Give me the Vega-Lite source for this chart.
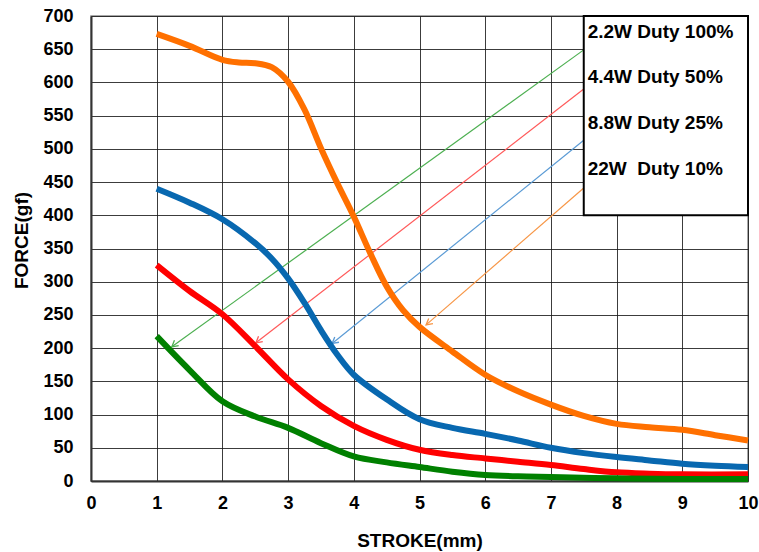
{
  "$schema": "https://vega.github.io/schema/vega-lite/v6.json",
  "width": 657,
  "height": 465,
  "autosize": {"type": "none"},
  "padding": {"left": 91, "top": 16, "right": 11, "bottom": 71},
  "background": "white",
  "config": {
    "view": {"stroke": "#8c8c8c", "strokeWidth": 1.5},
    "font": "Liberation Sans",
    "axis": {
      "grid": true, "gridColor": "#1a1a1a", "gridWidth": 1, "gridOpacity": 0.85,
      "ticks": false, "tickSize": 0,
      "domainColor": "#333333", "domainWidth": 2,
      "labelFont": "Liberation Sans", "labelFontWeight": "bold", "labelFontSize": 18, "labelColor": "black",
      "labelOverlap": false, "labelFlush": false,
      "titleFont": "Liberation Sans", "titleFontWeight": "bold", "titleFontSize": 19, "titleColor": "black"
    },
    "axisX": {"labelPadding": 13, "titleY": 65, "titleBaseline": "alphabetic"},
    "axisY": {"labelPadding": 18, "titleAngle": -90, "titleX": -64, "titleY": 224, "titleAlign": "center", "titleBaseline": "alphabetic"}
  },
  "datasets": {
    "curves": [
      {"series": "orange", "stroke": 1, "force": 673},
      {"series": "orange", "stroke": 1.5, "force": 655},
      {"series": "orange", "stroke": 2, "force": 634},
      {"series": "orange", "stroke": 2.25, "force": 630},
      {"series": "orange", "stroke": 2.5, "force": 629},
      {"series": "orange", "stroke": 2.75, "force": 623},
      {"series": "orange", "stroke": 3, "force": 601},
      {"series": "orange", "stroke": 3.25, "force": 559},
      {"series": "orange", "stroke": 3.5, "force": 501},
      {"series": "orange", "stroke": 3.75, "force": 448},
      {"series": "orange", "stroke": 4, "force": 398},
      {"series": "orange", "stroke": 4.25, "force": 343},
      {"series": "orange", "stroke": 4.5, "force": 293},
      {"series": "orange", "stroke": 4.75, "force": 257},
      {"series": "orange", "stroke": 5, "force": 232},
      {"series": "orange", "stroke": 5.5, "force": 195},
      {"series": "orange", "stroke": 6, "force": 160},
      {"series": "orange", "stroke": 6.5, "force": 135},
      {"series": "orange", "stroke": 7, "force": 115},
      {"series": "orange", "stroke": 7.5, "force": 98},
      {"series": "orange", "stroke": 8, "force": 86},
      {"series": "orange", "stroke": 8.5, "force": 81},
      {"series": "orange", "stroke": 9, "force": 77},
      {"series": "orange", "stroke": 9.5, "force": 69},
      {"series": "orange", "stroke": 10, "force": 61},
      {"series": "blue", "stroke": 1, "force": 440},
      {"series": "blue", "stroke": 1.5, "force": 419},
      {"series": "blue", "stroke": 2, "force": 394},
      {"series": "blue", "stroke": 2.5, "force": 358},
      {"series": "blue", "stroke": 2.75, "force": 335},
      {"series": "blue", "stroke": 3, "force": 305},
      {"series": "blue", "stroke": 3.25, "force": 268},
      {"series": "blue", "stroke": 3.5, "force": 227},
      {"series": "blue", "stroke": 3.75, "force": 190},
      {"series": "blue", "stroke": 4, "force": 160},
      {"series": "blue", "stroke": 4.5, "force": 123},
      {"series": "blue", "stroke": 5, "force": 93},
      {"series": "blue", "stroke": 5.5, "force": 80},
      {"series": "blue", "stroke": 6, "force": 71},
      {"series": "blue", "stroke": 6.5, "force": 61},
      {"series": "blue", "stroke": 7, "force": 50},
      {"series": "blue", "stroke": 7.5, "force": 42},
      {"series": "blue", "stroke": 8, "force": 36},
      {"series": "blue", "stroke": 8.5, "force": 31},
      {"series": "blue", "stroke": 9, "force": 26},
      {"series": "blue", "stroke": 9.5, "force": 23},
      {"series": "blue", "stroke": 10, "force": 21},
      {"series": "red", "stroke": 1, "force": 325},
      {"series": "red", "stroke": 1.5, "force": 286},
      {"series": "red", "stroke": 2, "force": 251},
      {"series": "red", "stroke": 2.5, "force": 203},
      {"series": "red", "stroke": 3, "force": 153},
      {"series": "red", "stroke": 3.5, "force": 113},
      {"series": "red", "stroke": 4, "force": 83},
      {"series": "red", "stroke": 4.5, "force": 62},
      {"series": "red", "stroke": 5, "force": 47},
      {"series": "red", "stroke": 5.5, "force": 39},
      {"series": "red", "stroke": 6, "force": 34},
      {"series": "red", "stroke": 6.5, "force": 29},
      {"series": "red", "stroke": 7, "force": 24},
      {"series": "red", "stroke": 7.5, "force": 18},
      {"series": "red", "stroke": 8, "force": 13},
      {"series": "red", "stroke": 8.5, "force": 11},
      {"series": "red", "stroke": 9, "force": 10},
      {"series": "red", "stroke": 10, "force": 10},
      {"series": "green", "stroke": 1, "force": 218},
      {"series": "green", "stroke": 1.5, "force": 167},
      {"series": "green", "stroke": 2, "force": 120},
      {"series": "green", "stroke": 2.5, "force": 97},
      {"series": "green", "stroke": 3, "force": 80},
      {"series": "green", "stroke": 3.5, "force": 57},
      {"series": "green", "stroke": 4, "force": 37},
      {"series": "green", "stroke": 4.5, "force": 28},
      {"series": "green", "stroke": 5, "force": 21},
      {"series": "green", "stroke": 5.5, "force": 14},
      {"series": "green", "stroke": 6, "force": 9},
      {"series": "green", "stroke": 6.5, "force": 7},
      {"series": "green", "stroke": 7, "force": 6},
      {"series": "green", "stroke": 8, "force": 4},
      {"series": "green", "stroke": 9, "force": 3},
      {"series": "green", "stroke": 10, "force": 3}
    ],
    "arrows": [
      {"series": "green", "x1": 7.5, "y1": 649, "x2": 1.23, "y2": 202},
      {"series": "red", "x1": 7.5, "y1": 590, "x2": 2.51, "y2": 208},
      {"series": "blue", "x1": 7.5, "y1": 513, "x2": 3.67, "y2": 207},
      {"series": "orange", "x1": 7.5, "y1": 441, "x2": 5.1, "y2": 235}
    ],
    "box": [{"x1": 7.5, "x2": 10, "y1": 400, "y2": 700}],
    "labels": [
      {"label": "2.2W Duty 100%", "x": 7.56, "y": 676},
      {"label": "4.4W Duty 50%", "x": 7.56, "y": 608},
      {"label": "8.8W Duty 25%", "x": 7.56, "y": 539},
      {"label": "22W\u00a0 Duty 10%", "x": 7.56, "y": 469}
    ]
  },
  "layer": [
    {
      "data": {"name": "arrows"},
      "mark": {"type": "rule", "strokeWidth": 1.2},
      "encoding": {
        "x": {"field": "x1", "type": "quantitative", "scale": {"domain": [0, 10], "nice": false},
          "axis": {"values": [0, 1, 2, 3, 4, 5, 6, 7, 8, 9, 10], "format": "d", "title": "STROKE(mm)"}},
        "y": {"field": "y1", "type": "quantitative", "scale": {"domain": [0, 700], "nice": false},
          "axis": {"values": [0, 50, 100, 150, 200, 250, 300, 350, 400, 450, 500, 550, 600, 650, 700], "format": "d", "title": "FORCE(gf)"}},
        "x2": {"field": "x2"},
        "y2": {"field": "y2"},
        "color": {"field": "series", "type": "nominal",
          "scale": {"domain": ["orange", "blue", "red", "green"], "range": ["#F79646", "#5B9BD5", "#FF5A5A", "#4CAF50"]},
          "legend": null}
      }
    },
    {
      "data": {"name": "arrows"},
      "mark": {"type": "point", "shape": "M-0.55,1 L0,0 L0.55,1", "filled": false, "size": 150, "strokeWidth": 1.3, "angle": 231, "opacity": 1},
      "encoding": {
        "x": {"field": "x2", "type": "quantitative",
          "axis": {"values": [0, 1, 2, 3, 4, 5, 6, 7, 8, 9, 10], "format": "d", "title": "STROKE(mm)"}},
        "y": {"field": "y2", "type": "quantitative",
          "axis": {"values": [0, 50, 100, 150, 200, 250, 300, 350, 400, 450, 500, 550, 600, 650, 700], "format": "d", "title": "FORCE(gf)"}},
        "color": {"field": "series", "type": "nominal",
          "scale": {"domain": ["orange", "blue", "red", "green"], "range": ["#F79646", "#5B9BD5", "#FF5A5A", "#4CAF50"]},
          "legend": null}
      }
    },
    {
      "data": {"name": "curves"},
      "mark": {"type": "line", "interpolate": "catmull-rom", "strokeWidth": 6, "strokeCap": "butt", "strokeJoin": "round"},
      "encoding": {
        "x": {"field": "stroke", "type": "quantitative",
          "axis": {"values": [0, 1, 2, 3, 4, 5, 6, 7, 8, 9, 10], "format": "d", "title": "STROKE(mm)"}},
        "y": {"field": "force", "type": "quantitative",
          "axis": {"values": [0, 50, 100, 150, 200, 250, 300, 350, 400, 450, 500, 550, 600, 650, 700], "format": "d", "title": "FORCE(gf)"}},
        "detail": {"field": "series"},
        "stroke": {"field": "series", "type": "nominal",
          "scale": {"domain": ["orange", "blue", "red", "green"], "range": ["#FF7000", "#0868B0", "#FF0000", "#008000"]},
          "legend": null}
      }
    },
    {
      "data": {"name": "box"},
      "mark": {"type": "rect", "fill": "white", "stroke": "black", "strokeWidth": 2},
      "encoding": {
        "x": {"field": "x1", "type": "quantitative",
          "axis": {"values": [0, 1, 2, 3, 4, 5, 6, 7, 8, 9, 10], "format": "d", "title": "STROKE(mm)"}},
        "x2": {"field": "x2"},
        "y": {"field": "y1", "type": "quantitative",
          "axis": {"values": [0, 50, 100, 150, 200, 250, 300, 350, 400, 450, 500, 550, 600, 650, 700], "format": "d", "title": "FORCE(gf)"}},
        "y2": {"field": "y2"}
      }
    },
    {
      "data": {"name": "labels"},
      "mark": {"type": "text", "align": "left", "baseline": "middle", "font": "Liberation Sans", "fontWeight": "bold", "fontSize": 19, "color": "black"},
      "encoding": {
        "x": {"field": "x", "type": "quantitative",
          "axis": {"values": [0, 1, 2, 3, 4, 5, 6, 7, 8, 9, 10], "format": "d", "title": "STROKE(mm)"}},
        "y": {"field": "y", "type": "quantitative",
          "axis": {"values": [0, 50, 100, 150, 200, 250, 300, 350, 400, 450, 500, 550, 600, 650, 700], "format": "d", "title": "FORCE(gf)"}},
        "text": {"field": "label"}
      }
    }
  ]
}
